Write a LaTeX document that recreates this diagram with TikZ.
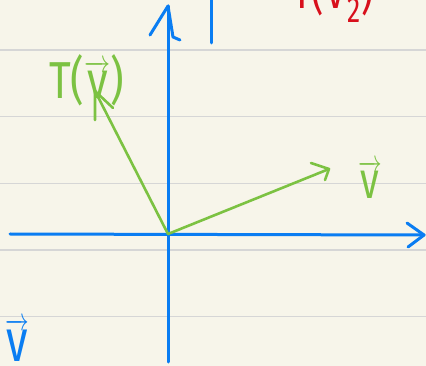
\documentclass[tikz,border=0pt]{standalone}
\usepackage{fontspec}
\usepackage{graphicx}
\setmainfont{Fira Sans}
\definecolor{paper}{HTML}{F7F5EA}
\definecolor{ruling}{HTML}{D6D6D6}
\definecolor{axisblue}{HTML}{0A7DF2}
\definecolor{vgreen}{HTML}{7CC242}
\definecolor{inkred}{HTML}{D8101C}
\newcommand\hw[2][0.95]{\scalebox{#1}[1.3]{#2}}
\newcommand\vv{$\overrightarrow{\mbox{v}}$}
\begin{document}
\begin{tikzpicture}[x=1pt,y=-1pt,
  ruleline/.style={ruling,line width=1.5pt},
  axis/.style={axisblue,line width=3pt,line cap=round,line join=round},
  vecline/.style={vgreen,line width=2.6pt,line cap=round,line join=round},
  lab/.style={inner sep=0pt,font=\fontsize{40}{40}\selectfont}]
\useasboundingbox (0,0) rectangle (426,366);
\fill[paper] (0,0) rectangle (426,366);
\clip (0,0) rectangle (426,366);
\foreach \y in {50,116.7,183.3,250,316.7} \draw[ruleline] (0,\y) -- (426,\y);
% axes
\coordinate (ytop) at (168,6);
\coordinate (ybot) at (168,362);
\coordinate (xleft) at (10,234);
\coordinate (xright) at (424,235);
\draw[axis] (ybot) -- (ytop);
\draw[axis] ([shift={(-18,29)}]ytop) -- (ytop) -- ([shift={(5,31)}]ytop) -- ([shift={(12,34)}]ytop);
\draw[axis] (xleft) -- (xright);
\draw[axis] ([shift={(-17,-12)}]xright) -- (xright) -- ([shift={(-16,12)}]xright);
% blue stroke top
\coordinate (stroke1) at (211,0);
\coordinate (stroke2) at (211,43);
\draw[axis] (stroke1) -- (stroke2);
% vectors
\coordinate (O) at (168,234);
\coordinate (vtip) at (329,169);
\coordinate (Ttip) at (95,91);
\draw[vecline] (O) -- (vtip);
\draw[vecline] ([shift={(-18,-6)}]vtip) -- (vtip) -- ([shift={(-4,11)}]vtip);
\draw[vecline] (O) -- (Ttip);
\draw[vecline] ([shift={(0,29)}]Ttip) -- (Ttip) -- ([shift={(18,17)}]Ttip);
% labels
\node[lab,text=vgreen,anchor=base] (vlab) at (370,199) {\hw{\vv}};
\node[lab,text=vgreen,anchor=base west] (Tlab) at (49,99) {\hw[1.05]{T(\vv)}};
\node[lab,text=inkred,anchor=base west] (T2lab) at (292,9) {\hw{T(\vv\textsubscript{2})}};
\node[lab,text=axisblue,anchor=base west,font=\fontsize{46}{46}\selectfont] (bvlab) at (5,361) {\hw{\vv}};
\end{tikzpicture}
\end{document}
